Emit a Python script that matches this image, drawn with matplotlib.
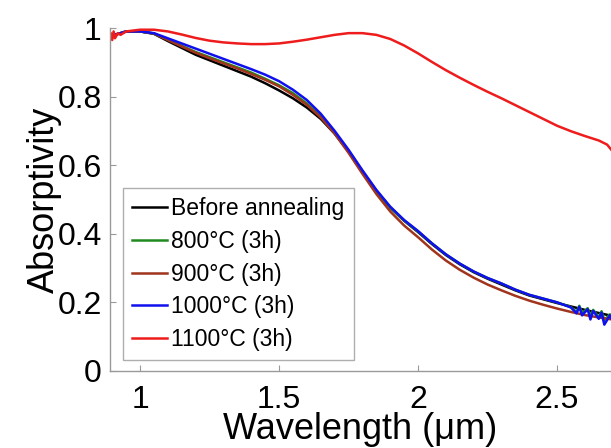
import numpy as np
import matplotlib
matplotlib.use("Agg")
import matplotlib.pyplot as plt

plt.rcParams['font.family'] = ['Liberation Sans', 'DejaVu Sans']

# ---- data ----
wl = [0.89, 0.95, 1.0, 1.05, 1.1, 1.15, 1.2, 1.25, 1.3, 1.35, 1.4, 1.45, 1.5,
      1.55, 1.6, 1.65, 1.7, 1.75, 1.8, 1.85, 1.9, 1.95, 2.0, 2.05, 2.1, 2.15,
      2.2, 2.25, 2.3, 2.35, 2.4, 2.45, 2.5, 2.55, 2.6, 2.65, 2.7]

before = [0.975, 0.99, 0.99, 0.983, 0.962, 0.942, 0.922, 0.906, 0.89, 0.874,
          0.858, 0.839, 0.818, 0.795, 0.768, 0.735, 0.692, 0.64, 0.582, 0.525,
          0.476, 0.438, 0.405, 0.37, 0.338, 0.311, 0.288, 0.269, 0.252, 0.235,
          0.22, 0.209, 0.198, 0.188, 0.178, 0.169, 0.16]

a900 = [0.975, 0.99, 0.99, 0.984, 0.965, 0.946, 0.928, 0.912, 0.897, 0.882,
        0.866, 0.849, 0.83, 0.805, 0.776, 0.739, 0.692, 0.636, 0.575, 0.516,
        0.465, 0.424, 0.39, 0.354, 0.322, 0.295, 0.272, 0.252, 0.235, 0.219,
        0.205, 0.193, 0.182, 0.172, 0.163, 0.156, 0.15]

# 800 / 1000 share a noisy tail beyond 2.5 um
wl_tail = [0.89, 0.95, 1.0, 1.05, 1.1, 1.15, 1.2, 1.25, 1.3, 1.35, 1.4, 1.45,
           1.5, 1.55, 1.6, 1.65, 1.7, 1.75, 1.8, 1.85, 1.9, 1.95, 2.0, 2.05,
           2.1, 2.15, 2.2, 2.25, 2.3, 2.35, 2.4, 2.45, 2.5, 2.55, 2.57, 2.58,
           2.59, 2.61, 2.62, 2.63, 2.65, 2.66, 2.67, 2.69, 2.7]
a800 = [0.975, 0.99, 0.99, 0.984, 0.966, 0.948, 0.93, 0.915, 0.9, 0.885,
        0.87, 0.852, 0.833, 0.81, 0.78, 0.742, 0.695, 0.641, 0.582, 0.526,
        0.477, 0.439, 0.407, 0.372, 0.34, 0.313, 0.29, 0.271, 0.255, 0.237,
        0.222, 0.211, 0.2, 0.186, 0.172, 0.19, 0.168, 0.183, 0.16, 0.178,
        0.156, 0.174, 0.148, 0.165, 0.152]
a1000 = [0.975, 0.99, 0.99, 0.985, 0.97, 0.955, 0.94, 0.925, 0.91, 0.895,
         0.88, 0.864, 0.845, 0.82, 0.79, 0.75, 0.70, 0.645, 0.585, 0.528,
         0.479, 0.44, 0.408, 0.372, 0.34, 0.313, 0.29, 0.271, 0.255, 0.237,
         0.222, 0.211, 0.20, 0.185, 0.168, 0.187, 0.162, 0.18, 0.15, 0.175,
         0.152, 0.17, 0.135, 0.162, 0.145]

wl_red = [0.89, 0.895, 0.90, 0.905, 0.91, 0.92, 0.93, 0.95, 1.0, 1.05, 1.1,
          1.15, 1.2, 1.25, 1.3, 1.35, 1.4, 1.45, 1.5, 1.55, 1.6, 1.65, 1.7,
          1.75, 1.8, 1.85, 1.9, 1.95, 2.0, 2.05, 2.1, 2.15, 2.2, 2.25, 2.3,
          2.35, 2.4, 2.45, 2.5, 2.55, 2.6, 2.65, 2.68, 2.7]
a1100 = [0.96, 0.985, 0.965, 0.99, 0.97, 0.985, 0.98, 0.99, 0.995, 0.995,
         0.99, 0.981, 0.971, 0.963, 0.958, 0.955, 0.953, 0.953, 0.955, 0.96,
         0.966, 0.973, 0.98, 0.985, 0.985, 0.98, 0.968, 0.949, 0.926, 0.901,
         0.877, 0.855, 0.834, 0.814, 0.795, 0.775, 0.755, 0.735, 0.715, 0.699,
         0.685, 0.672, 0.66, 0.64]

labels = ['Before annealing', '800°C (3h)', '900°C (3h)', '1000°C (3h)', '1100°C (3h)']
colors = ['#000000', '#1f8a1f', '#a0341c', '#1010ee', '#ee1c1c']

# ---- figure ----
fig = plt.figure(figsize=(6.11, 4.48), dpi=100)
ax = fig.add_axes([0.18, 0.172, 0.82, 0.7655])

ax.plot(wl, before, color=colors[0], lw=1.8, label=labels[0])
ax.plot(wl_tail, a800, color=colors[1], lw=1.8, label=labels[1])
ax.plot(wl, a900, color=colors[2], lw=1.8, label=labels[2])
ax.plot(wl_tail, a1000, color=colors[3], lw=1.8, label=labels[3])
ax.plot(wl_red, a1100, color=colors[4], lw=1.8, label=labels[4])

ax.set_xlim(0.892, 2.694)
ax.set_ylim(0, 1)
ax.set_xticks([1, 1.5, 2, 2.5])
ax.set_xticklabels(['1', '1.5', '2', '2.5'])
ax.set_yticks([0, 0.2, 0.4, 0.6, 0.8, 1])
ax.set_yticklabels(['0', '0.2', '0.4', '0.6', '0.8', '1'])

for s in ['top', 'right']:
    ax.spines[s].set_visible(False)
for s in ['left', 'bottom']:
    ax.spines[s].set_color('#9a9a9a')
    ax.spines[s].set_linewidth(1.0)
ax.tick_params(direction='in', length=4, color='#9a9a9a', labelsize=23)
ax.tick_params(axis='x', pad=10)
ax.tick_params(axis='y', pad=6)

ax.set_xlabel('Wavelength (μm)', fontsize=26, labelpad=-2)
ax.set_ylabel('Absorptivity', fontsize=26, labelpad=-3)

leg = ax.legend(loc='lower left', bbox_to_anchor=(0.026, 0.032), borderaxespad=0,
                fontsize=16.5, frameon=True, fancybox=False, handlelength=1.5,
                handletextpad=0.2, labelspacing=0.42, borderpad=0.4)
leg.get_frame().set_edgecolor('#9a9a9a')
leg.get_frame().set_linewidth(1.0)

plt.savefig('out.png', dpi=100)
